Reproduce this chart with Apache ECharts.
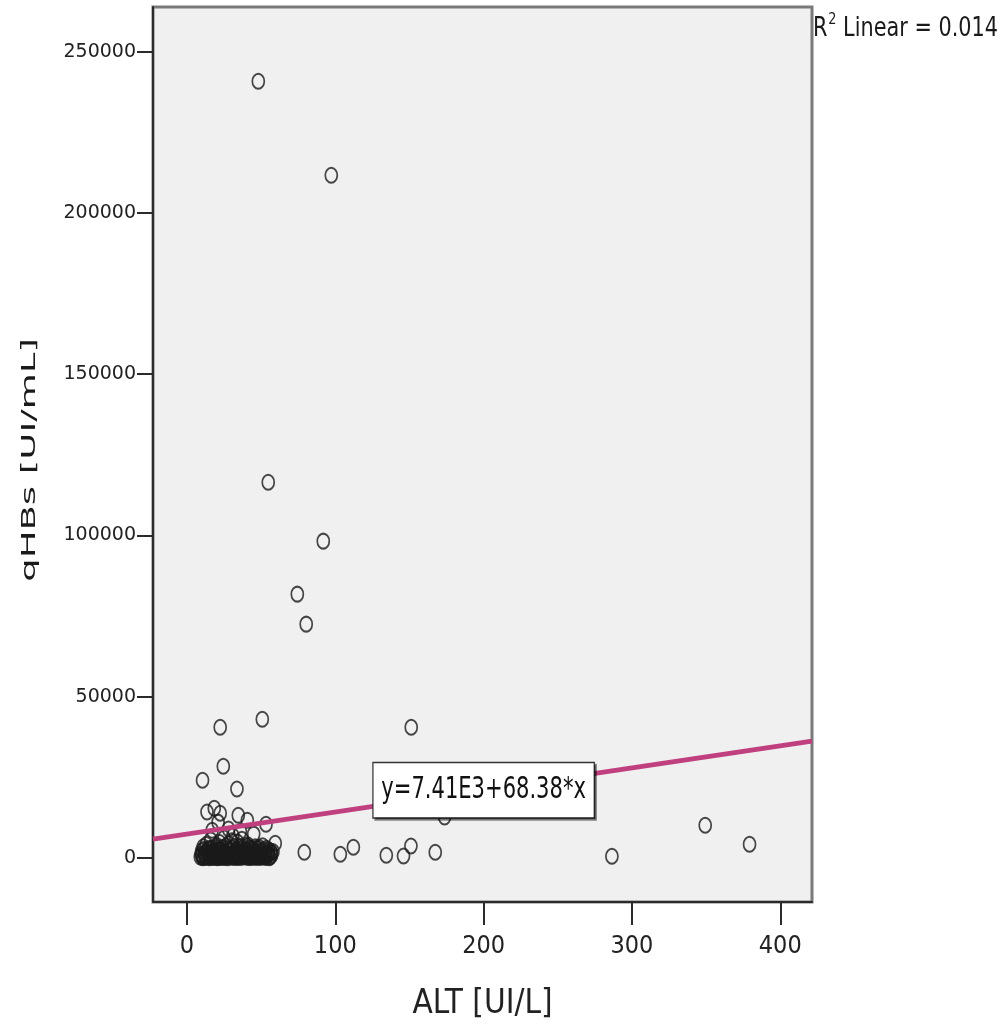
<!DOCTYPE html>
<html><head><meta charset="utf-8">
<script src="https://cdn.jsdelivr.net/npm/echarts@6/dist/echarts.min.js"></script>
<style>html,body{margin:0;padding:0;background:#fff}#c{width:1005px;height:1028px}</style>
</head><body><div id="c"></div>
<script>
// ---- data ----
const xTicks = [0, 100, 200, 300, 400];
const yTicks = [0, 50000, 100000, 150000, 200000, 250000];
const xTitle = 'ALT [UI/L]';
const yTitle = 'qHBs [UI/mL]';
const r2Value = '0.014';
const fitLabel = 'y=7.41E3+68.38*x';
// [ALT, qHBs]
const outlierPoints = [
  [48.1,240850],[97.3,211700],[54.8,116500],[91.9,98230],[74.4,81800],[80.4,72500],
  [50.8,43000],[22.4,40540],[151.2,40540],[24.5,28450],[10.5,24100],[33.7,21400],
  [13.5,14270],[18.4,15400],[22.4,13860],[34.6,13240],[40.7,11700],[53.3,10450],
  [59.5,4560],[79.1,1770],[103.4,1150],[112.2,3320],[134.4,840],[146,620],[151,3720],
  [167.4,1770],[173.7,12700],[286.5,530],[349.4,10140],[379.3,4250]
];
const clusterPoints = [
  [21,11100],[28,9000],[36,8200],[45,7400],[17,8600],[31,6800],
  [9,300],[10,900],[10,2200],[11,150],[11,3500],[12,600],[12,1500],[13,250],[13,4200],
  [14,1000],[14,2700],[15,400],[15,100],[16,1800],[16,5600],[17,700],[17,3100],[18,200],
  [18,1300],[19,2300],[19,500],[20,3900],[20,900],[21,150],[21,1700],[22,4800],[22,600],
  [23,2500],[23,1100],[24,300],[24,3300],[25,800],[25,6200],[26,1500],[26,200],[27,2900],
  [27,700],[28,4400],[28,1200],[29,400],[29,2000],[30,5300],[30,900],[31,200],[31,1600],
  [32,3600],[32,600],[33,2400],[33,1100],[34,300],[34,4900],[35,1400],[35,700],[36,2800],
  [36,150],[37,1900],[37,5800],[38,900],[38,3200],[39,400],[39,1500],[40,2600],[40,700],
  [41,200],[41,4100],[42,1200],[42,3000],[43,500],[43,1800],[44,2300],[44,250],[45,1000],
  [46,3500],[46,600],[47,1600],[47,150],[48,2700],[48,800],[49,400],[49,1300],[50,2100],
  [51,500],[51,3800],[52,1000],[53,200],[53,1700],[54,600],[55,2500],[55,1100],[56,300],
  [57,1500],[57,800],[58,2000],
  [9.5,1200],[10.5,100],[11.5,2700],[12.5,400],[13.5,1900],[14.5,600],[15.5,3000],[16.5,250],
  [17.5,2000],[18.5,800],[19.5,3300],[20.5,100],[21.5,2600],[22.5,1400],[23.5,200],[24.5,2000],
  [25.5,1200],[26.5,3700],[27.5,100],[28.5,2400],[29.5,1100],[30.5,3000],[31.5,500],[32.5,1300],
  [33.5,200],[34.5,2100],[35.5,3400],[36.5,900],[37.5,300],[38.5,2200],[39.5,1000],[40.5,3600],
  [41.5,900],[42.5,200],[43.5,2800],[44.5,1400],[45.5,300],[46.5,2200],[47.5,900],[48.5,3300],
  [49.5,200],[50.5,1200],[51.5,2500],[52.5,400],[53.5,3000],[54.5,1500],[55.5,100],[56.5,2000]
];
const fitLineX = [-22.9, 421.4];
const fitLineY = [5840, 36230];
const fitLabelAt = [200, 21000];

// ---- chart ----
const NARROW = "'Liberation Sans Narrow','DejaVu Sans Condensed','Arial Narrow',sans-serif";
const WIDE = "'DejaVu Sans',Verdana,sans-serif";
const chart = echarts.init(document.getElementById('c'), null, {renderer: 'canvas'});
chart.setOption({
  animation: false,
  backgroundColor: '#ffffff',
  grid: {left: 153, right: 193, top: 7, bottom: 126, show: true,
         backgroundColor: '#f0f0f0', borderColor: '#7a7a7a', borderWidth: 3},
  xAxis: {
    type: 'value', min: -22.9, max: 421.4,
    axisLine: {show: true, onZero: false, lineStyle: {color: '#2b2b2b', width: 2}},
    axisTick: {show: true, length: 23, customValues: xTicks, lineStyle: {color: '#2b2b2b', width: 2}},
    axisLabel: {customValues: xTicks, margin: 32, color: '#222', fontFamily: NARROW, fontSize: 25},
    splitLine: {show: false},
    name: xTitle, nameLocation: 'middle', nameGap: 86,
    nameTextStyle: {color: '#222', fontFamily: NARROW, fontSize: 33}
  },
  yAxis: {
    type: 'value', min: -13650, max: 263860,
    axisLine: {show: true, onZero: false, lineStyle: {color: '#2b2b2b', width: 2}},
    axisTick: {show: true, length: 16, customValues: yTicks, lineStyle: {color: '#2b2b2b', width: 2}},
    axisLabel: {customValues: yTicks, margin: 17, color: '#222', fontFamily: WIDE, fontSize: 19,
                formatter: function (v) { return String(v); }},
    splitLine: {show: false}
  },
  series: [
    {type: 'scatter', data: outlierPoints.concat(clusterPoints), z: 2,
     symbol: 'path://M11,7A5.5,7,0,1,1,0,7A5.5,7,0,1,1,11,7Z', symbolSize: [12, 15],
     itemStyle: {color: 'rgba(0,0,0,0)', borderColor: '#1a1a1a', borderWidth: 1.9},
     emphasis: {disabled: true}},
    {type: 'line', data: [[fitLineX[0], fitLineY[0]], [fitLineX[1], fitLineY[1]]], z: 3,
     showSymbol: false, symbol: 'none', lineStyle: {color: '#c0407f', width: 5}}
  ]
});
// equation box anchored to its data position
const p = chart.convertToPixel({gridIndex: 0}, fitLabelAt);
chart.setOption({
  graphic: [
    {type: 'text', x: 30, y: 460, rotation: Math.PI / 2, scaleX: 1.85, scaleY: 1,
     style: {text: yTitle, font: "20px 'DejaVu Sans', Verdana, sans-serif", fill: '#1a1a1a',
             align: 'center', verticalAlign: 'middle'}},
    {type: 'text', x: 813, y: 12, scaleX: 0.89, scaleY: 1,
     style: {text: '{n|R}{s|2}{n| Linear = ' + r2Value + '}', fill: '#1a1a1a',
             rich: {n: {fontFamily: NARROW, fontSize: 26, color: '#1a1a1a', lineHeight: 30, verticalAlign: 'bottom'},
                    s: {fontFamily: NARROW, fontSize: 16, color: '#1a1a1a', verticalAlign: 'top', lineHeight: 30, padding: [0, 0, 0, 1]}}}},
    {type: 'text', x: p[0], y: p[1], scaleX: 0.78, scaleY: 1, z: 100,
     style: {text: fitLabel, font: "30px " + NARROW, fill: '#111', align: 'center', verticalAlign: 'middle',
             backgroundColor: '#ffffff', borderColor: '#333', borderWidth: 1.6, padding: [8, 10, 8, 10],
             lineHeight: 38, shadowColor: 'rgba(0,0,0,0.45)', shadowOffsetX: 2, shadowOffsetY: 2, shadowBlur: 0}}
  ]
});
</script></body></html>
